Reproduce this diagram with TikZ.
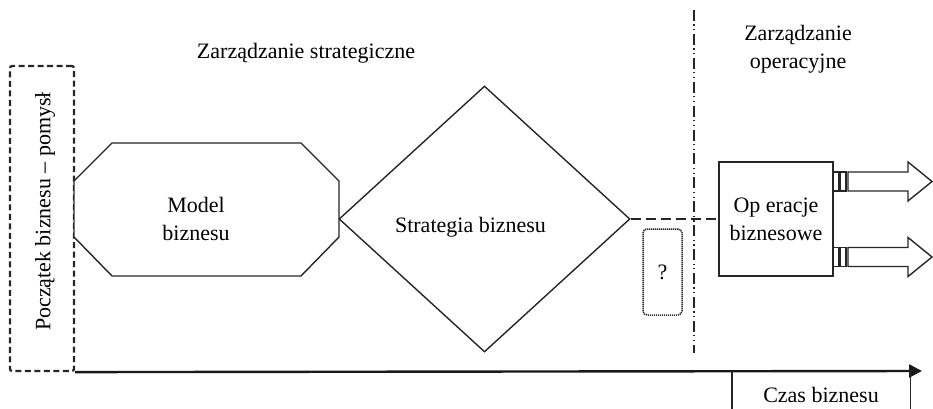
\documentclass[tikz,border=0pt]{standalone}
\usepackage{fontspec}
\setmainfont{Liberation Serif}
\usetikzlibrary{shapes.geometric,arrows.meta}

\tikzset{
  lbl/.style={font=\fontsize{22}{28}\selectfont, inner sep=0pt, align=center},
  shapeline/.style={draw=black!85, line width=1.4pt},
  startbox/.style={draw=black!85, line width=2.2pt, dash pattern=on 6pt off 3.5pt,
    rounded corners=2pt, minimum width=64pt, minimum height=305pt, inner sep=0pt},
  qbox/.style={draw=black!85, line width=1.5pt, dash pattern=on 1.2pt off 0.8pt,
    rounded corners=4pt, minimum width=39pt, minimum height=86pt, inner sep=0pt},
  opsbox/.style={shapeline, minimum width=114pt, minimum height=114pt, inner sep=0pt},
  conn/.style={draw=black!85, line width=2pt, dash pattern=on 10pt off 5pt},
  splitline/.style={draw=black!85, line width=1.8pt,
    dash pattern=on 11pt off 3.5pt on 1.2pt off 3.5pt on 1.2pt off 3.5pt},
  timeaxis/.style={draw=black!90, line width=2.4pt, -{Triangle[length=13pt,width=13pt]}},
  blockarrow/.pic={
    \draw[shapeline] (0,-9.5) rectangle (6,9.5);
    \draw[shapeline] (7,-9.5) rectangle (13,9.5);
    \draw[shapeline] (15,-9.5) -- (75,-9.5) -- (75,-19.5) -- (99,0)
      -- (75,19.5) -- (75,9.5) -- (15,9.5) -- cycle;
  }
}

\begin{document}
\begin{tikzpicture}[x=1pt,y=-1pt]
  \useasboundingbox (0,0) rectangle (933,409);

  % headings
  \node[lbl, anchor=base] (strathead) at (306,59) {Zarządzanie strategiczne};
  \node[lbl] (opshead) at (798,49) {Zarządzanie\\operacyjne};

  % boundary between strategic and operational management
  \coordinate (splittop) at (694,10);
  \coordinate (splitbot) at (694,353);
  \draw[splitline] (splittop) -- (splitbot);

  % starting point of the business
  \node[startbox] (start) at (42,218.5) {};
  \node[lbl, rotate=90] (starttxt) at (45,211.5) {Początek biznesu – pomysł};

  % business model (octagon)
  \coordinate (o1) at (74,181);  \coordinate (o2) at (112,143);
  \coordinate (o3) at (301,143); \coordinate (o4) at (339,181);
  \coordinate (o5) at (339,237); \coordinate (o6) at (301,276);
  \coordinate (o7) at (112,276); \coordinate (o8) at (74,237);
  \draw[shapeline, fill=white] (o1) -- (o2) -- (o3) -- (o4) -- (o5) -- (o6) -- (o7) -- (o8) -- cycle;
  \node[lbl] (model) at (196,219) {Model\\biznesu};

  % business strategy (diamond)
  \node[diamond, shapeline, minimum width=291pt, minimum height=266pt, inner sep=0pt]
        (strat) at (484.5,219) {};
  \node[lbl, anchor=base] (strattxt) at (470.5,232) {Strategia biznesu};

  % business operations
  \node[opsbox, lbl] (ops) at (776,219) {Op eracje\\biznesowe};
  \draw[conn] (strat.east) -- (ops.west);

  % open question
  \node[qbox, lbl] (q) at (662.5,272) {?};

  % outputs of operations
  \pic at (833,181.5) {blockarrow};
  \pic at (833,257) {blockarrow};

  % time axis
  \coordinate (axisend) at (922,371);
  \draw[timeaxis] (start.south east) -- (axisend);
  \node[minimum width=178pt, minimum height=40pt, inner sep=0pt] (czas) at (821,391) {};
  \draw[draw=black!85, line width=1.4pt] (czas.north west) -- (czas.south west)
        (czas.north east) -- (czas.south east);
  \node[lbl, anchor=base] (czastxt) at (821,402) {Czas biznesu};
\end{tikzpicture}
\end{document}
